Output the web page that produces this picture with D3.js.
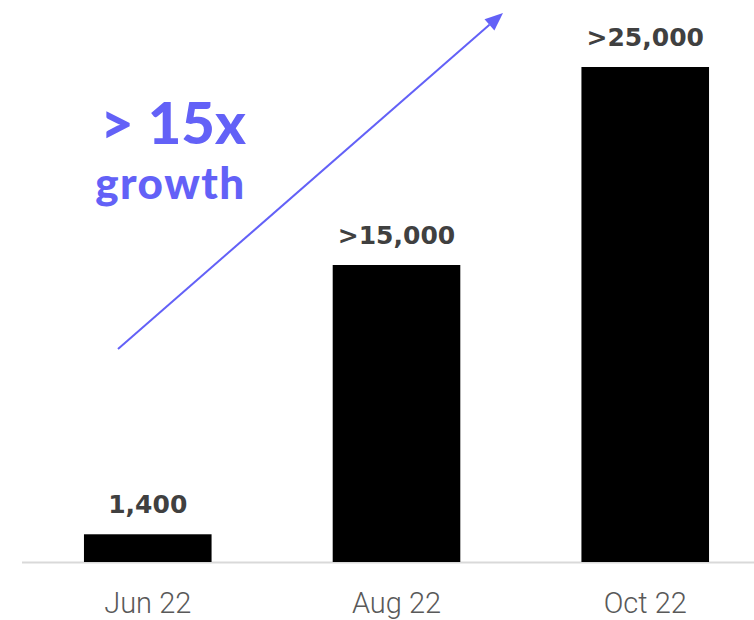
<!DOCTYPE html>
<html><head><meta charset="utf-8">
<script src="https://cdn.jsdelivr.net/npm/d3@7"></script>
<style>html,body{margin:0;padding:0;background:#fff;}svg{display:block;}</style>
</head><body>
<script>
const categories = ["Jun 22", "Aug 22", "Oct 22"];
const values = [1400, 15000, 25000];
const valueLabels = ["1,400", ">15,000", ">25,000"];
const headline = "> 15x";
const subline = "growth";

const W = 754, H = 620;
const svg = d3.select("body").append("svg").attr("width", W).attr("height", H);

const baseY = 562;
const x = d3.scaleBand().domain(categories).range([23.4, 769.6]).paddingInner(0.487).paddingOuter(0.2435);
const y = d3.scaleLinear().domain([0, 25000]).range([baseY, 67]);

// baseline axis
const axis = d3.axisBottom(x).tickSize(0).tickPadding(30);
const gAxis = svg.append("g").attr("transform", `translate(0,${baseY})`).call(axis);
gAxis.select(".domain").remove();
gAxis.selectAll("text")
  .attr("font-family", "Roboto, 'Open Sans', sans-serif")
  .attr("font-weight", 300)
  .attr("font-size", 29)
  .attr("fill", "#595959")
  .attr("dy", "0.71em");
svg.append("line").attr("x1", 22).attr("x2", W).attr("y1", baseY + 0.5).attr("y2", baseY + 0.5)
  .attr("stroke", "#d9d9d9").attr("stroke-width", 2);

// bars
svg.selectAll("rect.bar").data(values).join("rect").attr("class", "bar")
  .attr("x", (d, i) => x(categories[i]))
  .attr("width", x.bandwidth())
  .attr("y", d => y(d))
  .attr("height", d => baseY - y(d))
  .attr("fill", "#000");

// value labels
svg.selectAll("text.val").data(values).join("text").attr("class", "val")
  .attr("x", (d, i) => x(categories[i]) + x.bandwidth() / 2)
  .attr("y", d => y(d) - 21)
  .attr("text-anchor", "middle")
  .attr("font-family", "'DejaVu Sans', sans-serif")
  .attr("font-weight", 700)
  .attr("font-size", 25)
  .attr("fill", "#404040")
  .text((d, i) => valueLabels[i]);

// arrow annotation
const purple = "#6361f7";
const x0 = 118, y0 = 349, x1 = 503, y1 = 13;
const ang = Math.atan2(y1 - y0, x1 - x0);
const hl = 18, hw = 7.5;
const bx = x1 - hl * Math.cos(ang), by = y1 - hl * Math.sin(ang);
svg.append("line").attr("x1", x0).attr("y1", y0).attr("x2", bx).attr("y2", by)
  .attr("stroke", purple).attr("stroke-width", 2);
svg.append("path")
  .attr("d", `M${x1},${y1}L${bx + hw * Math.sin(ang)},${by - hw * Math.cos(ang)}L${bx - hw * Math.sin(ang)},${by + hw * Math.cos(ang)}Z`)
  .attr("fill", purple);

svg.append("text").attr("x", 173).attr("y", 144).attr("text-anchor", "middle")
  .attr("font-family", "Lato, sans-serif").attr("font-weight", 900).attr("font-size", 58)
  .attr("fill", purple).text(headline);
svg.append("text").attr("x", 170.5).attr("y", 199).attr("text-anchor", "middle")
  .attr("font-family", "Lato, sans-serif").attr("font-weight", 900).attr("font-size", 44)
  .attr("letter-spacing", 1.5)
  .attr("fill", purple).text(subline);
</script>
</body></html>
